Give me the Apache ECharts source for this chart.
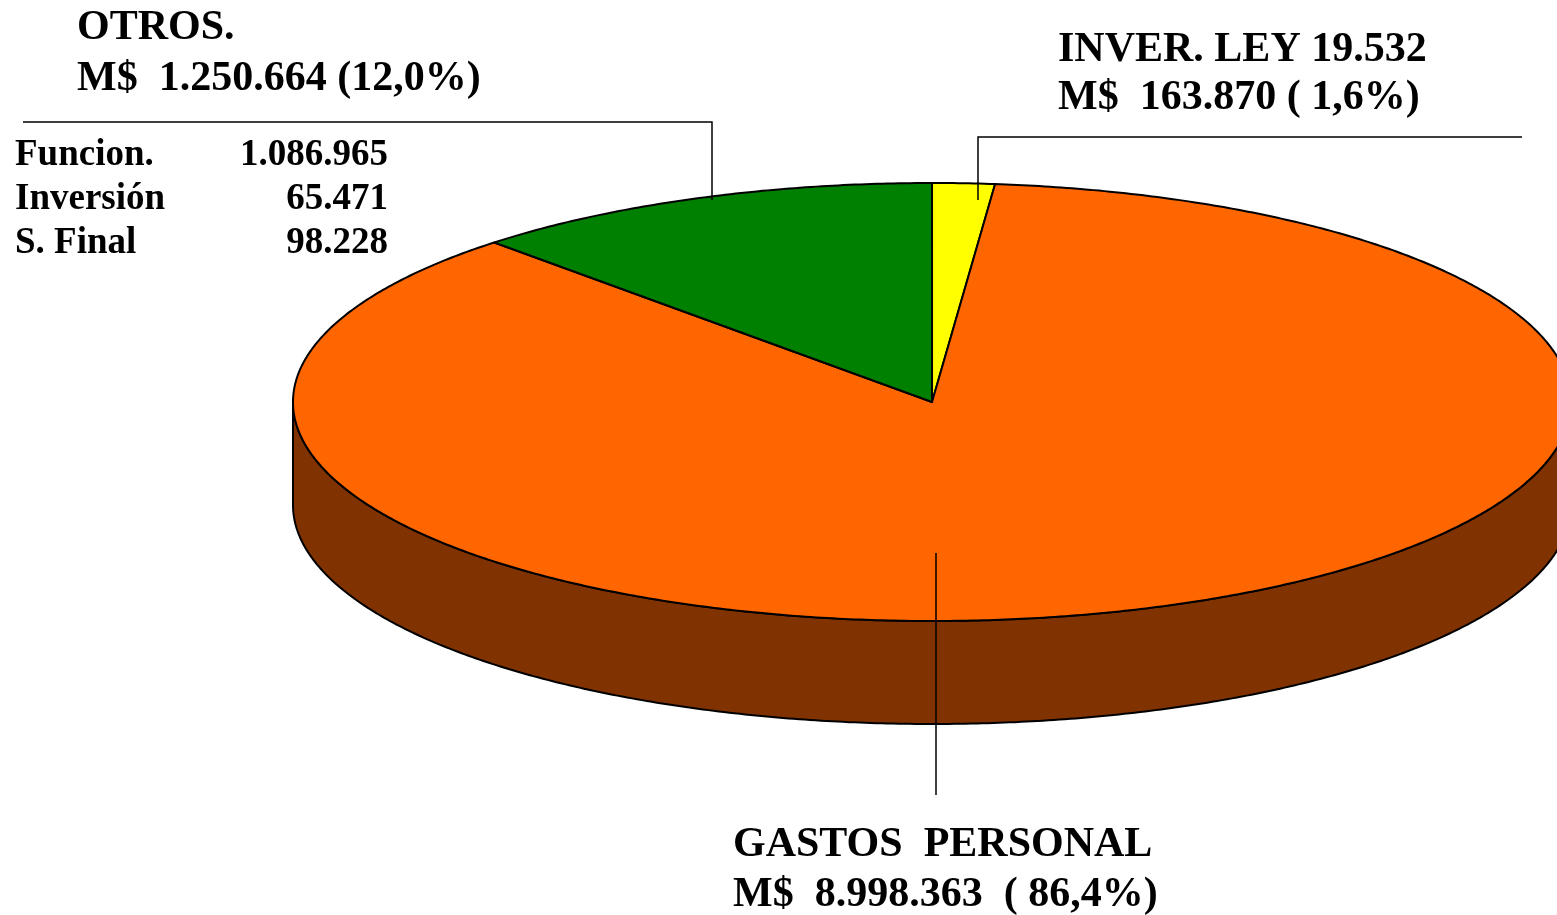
<!DOCTYPE html>
<html><head><meta charset="utf-8">
<script src="https://cdn.jsdelivr.net/npm/echarts@6/dist/echarts.min.js"></script>
<style>html,body{margin:0;padding:0;background:#fff}#c{width:1557px;height:915px}</style>
</head><body><div id="c"></div>
<script>
// ---- data ----
const categories = ['INVER. LEY 19.532', 'GASTOS  PERSONAL', 'OTROS.'];
const values = [163870, 8998363, 1250664];
const amountLabels = ['M$  163.870 ( 1,6%)', 'M$  8.998.363  ( 86,4%)', 'M$  1.250.664 (12,0%)'];
const otrosItems = ['Funcion.', 'Inversión', 'S. Final'];
const otrosValues = ['1.086.965', '65.471', '98.228'];

// ---- style ----
const topColors = ['#FFFF00', '#FF6600', '#008000'];
const sideColors = ['#808000', '#803300', '#004000'];
const DEPTH = 103;
const FONT = '"Liberation Serif", "Times New Roman", serif';

const total = values.reduce((a, b) => a + b, 0);
let acc = 0;
const sliceData = values.map((v, i) => {
  const s = acc / total * 360; acc += v;
  return { name: categories[i], value: [0, 0, s, acc / total * 360, v] };
});

function renderItem(params, api) {
  const i = params.dataIndex;
  const s = api.value(2), e = api.value(3);
  const pt = deg => { const r = deg * Math.PI / 180; return api.coord([Math.sin(r), Math.cos(r)]); };
  const arc = (a, b) => {
    const n = Math.max(2, Math.ceil((b - a) / 0.5));
    const pts = [];
    for (let k = 0; k <= n; k++) pts.push(pt(a + (b - a) * k / n));
    return pts;
  };
  const center = api.coord([0, 0]);
  const children = [];
  const fs = Math.max(s, 90), fe = Math.min(e, 270);
  if (fe > fs) {
    const front = arc(fs, fe);
    const back = front.slice().reverse().map(p => [p[0], p[1] + DEPTH]);
    children.push({ type: 'polygon', shape: { points: front.concat(back) },
      style: { fill: sideColors[i], stroke: '#000', lineWidth: 2, lineJoin: 'round' } });
  }
  children.push({ type: 'polygon', shape: { points: [center].concat(arc(s, e)) },
    style: { fill: topColors[i], stroke: '#000', lineWidth: 2, lineJoin: 'round' } });
  return { type: 'group', children };
}

function txt(text, x, baseline, size, align) {
  return { type: 'text', x: x, y: baseline - 0.28 * size, silent: true, z: 100,
    style: { text: text, font: 'bold ' + size + 'px ' + FONT, fill: '#000',
      textAlign: align || 'left', textVerticalAlign: 'middle', align: align || 'left', verticalAlign: 'middle' } };
}
function line(points) {
  return { type: 'polyline', silent: true, z: 100, shape: { points: points }, style: { stroke: '#000', lineWidth: 1.5, fill: null } };
}

const graphics = [
  txt(categories[2], 77, 40, 42), txt(amountLabels[2], 77, 91, 42),
  txt(categories[0], 1058, 62, 42), txt(amountLabels[0], 1058, 110, 42),
  txt(categories[1], 733, 857, 42), txt(amountLabels[1], 733, 907, 42),
  line([[23, 122], [712, 122], [712, 200]]),
  line([[978, 200], [978, 137], [1522, 137]]),
  line([[936, 553], [936, 795]])
];
otrosItems.forEach((t, k) => {
  graphics.push(txt(t, 15, 166 + 44 * k, 37));
  graphics.push(txt(otrosValues[k], 388, 166 + 44 * k, 37, 'right'));
});

const chart = echarts.init(document.getElementById('c'));
chart.setOption({
  animation: false,
  backgroundColor: '#fff',
  grid: { left: 293, top: 183, width: 1264, height: 438 },
  xAxis: { type: 'value', min: -1, max: 0.978, show: false },
  yAxis: { type: 'value', min: -1, max: 1, show: false },
  series: [{ type: 'custom', renderItem: renderItem, data: sliceData, encode: { x: 0, y: 1 }, clip: false }],
  graphic: graphics
});
</script></body></html>
